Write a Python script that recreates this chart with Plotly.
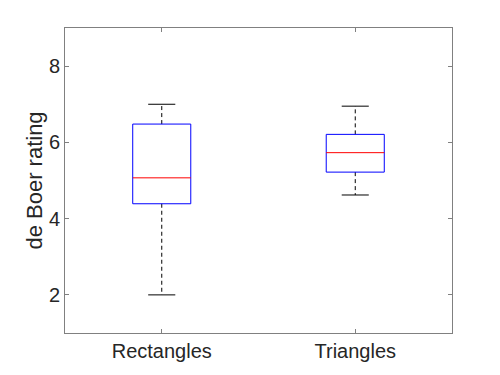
import plotly.graph_objects as go

categories = ["Rectangles", "Triangles"]
lower_whisker = [2.0, 4.62]
q1 = [4.39, 5.22]
median = [5.07, 5.73]
q3 = [6.48, 6.21]
upper_whisker = [7.0, 6.95]
y_ticks = [2, 4, 6, 8]

BOX_HALF = 0.15
CAP_HALF = 0.07

fig = go.Figure()
for i, cat in enumerate(categories):
    x = i + 1
    # whiskers (dashed)
    fig.add_trace(go.Scatter(x=[x, x, None, x, x], y=[q3[i], upper_whisker[i], None, q1[i], lower_whisker[i]],
                             mode="lines", line=dict(color="black", width=1, dash="4px,3px"), hoverinfo="skip"))
    # caps
    fig.add_trace(go.Scatter(x=[x - CAP_HALF, x + CAP_HALF, None, x - CAP_HALF, x + CAP_HALF],
                             y=[upper_whisker[i], upper_whisker[i], None, lower_whisker[i], lower_whisker[i]],
                             mode="lines", line=dict(color="black", width=1)))
    # box
    fig.add_trace(go.Scatter(x=[x - BOX_HALF, x + BOX_HALF, x + BOX_HALF, x - BOX_HALF, x - BOX_HALF],
                             y=[q1[i], q1[i], q3[i], q3[i], q1[i]],
                             mode="lines", line=dict(color="#0000ff", width=1)))
    # median
    fig.add_trace(go.Scatter(x=[x - BOX_HALF, x + BOX_HALF], y=[median[i], median[i]],
                             mode="lines", line=dict(color="#ff0000", width=1)))

axis_common = dict(showline=True, linecolor="#808080", linewidth=1, mirror="ticks", ticks="inside",
                   ticklen=4, tickcolor="#808080", showgrid=False, zeroline=False,
                   tickfont=dict(family="Liberation Sans, Arial", size=20, color="#262626"))

fig.update_layout(
    width=492, height=367, showlegend=False,
    plot_bgcolor="white", paper_bgcolor="white",
    margin=dict(l=57, r=48, t=20, b=42),
    xaxis=dict(range=[0.5, 2.5], tickvals=[1, 2], ticktext=categories, automargin=False, **axis_common),
    yaxis=dict(range=[1, 9], tickvals=y_ticks, ticktext=[str(v) for v in y_ticks], automargin=False,
               title=dict(text="de Boer rating", font=dict(family="Liberation Sans, Arial", size=22, color="#262626"), standoff=0),
               **axis_common),
)
fig.write_html("out.html")
